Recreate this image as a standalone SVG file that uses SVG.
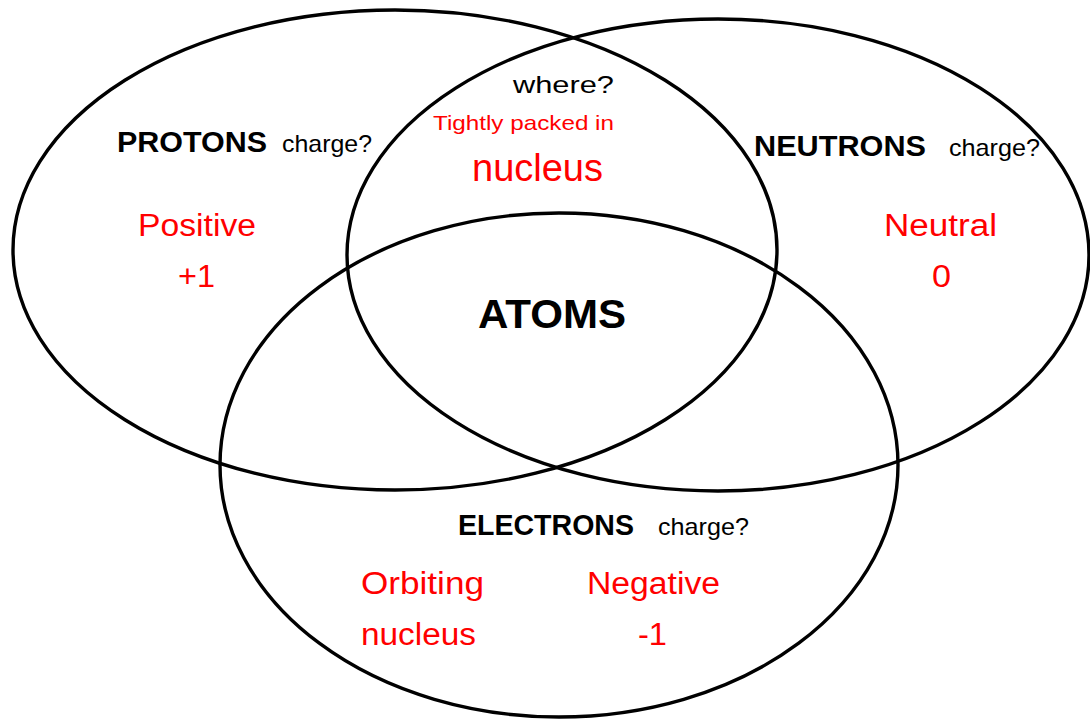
<svg xmlns="http://www.w3.org/2000/svg" width="1090" height="721" viewBox="0 0 1090 721">
<style>
.ring{fill:none;stroke:#000;stroke-width:3.4}
text{font-family:"Liberation Sans",Arial,sans-serif}
.h{font-weight:bold;fill:#000}
.q{fill:#000}
.r{fill:#ff0000}
</style>
<rect width="1090" height="721" fill="#fff"/>
<g id="connectors"></g>
<g id="protons">
<ellipse class="ring" cx="395" cy="250" rx="382" ry="240"/>
<text class="h" x="117" y="152" font-size="29" textLength="150" lengthAdjust="spacingAndGlyphs">PROTONS</text>
<text class="q" x="282" y="152" font-size="24" textLength="90" lengthAdjust="spacingAndGlyphs">charge?</text>
<text class="r" x="138" y="236" font-size="31" textLength="118" lengthAdjust="spacingAndGlyphs">Positive</text>
<text class="r" x="178" y="287" font-size="31" textLength="37" lengthAdjust="spacingAndGlyphs">+1</text>
</g>
<g id="neutrons">
<ellipse class="ring" cx="718" cy="255" rx="371" ry="236"/>
<text class="h" x="754" y="156" font-size="29" textLength="172" lengthAdjust="spacingAndGlyphs">NEUTRONS</text>
<text class="q" x="949" y="156" font-size="24" textLength="91" lengthAdjust="spacingAndGlyphs">charge?</text>
<text class="r" x="884" y="236" font-size="31" textLength="113" lengthAdjust="spacingAndGlyphs">Neutral</text>
<text class="r" x="932" y="287" font-size="31" textLength="19" lengthAdjust="spacingAndGlyphs">0</text>
</g>
<g id="electrons">
<ellipse class="ring" cx="559" cy="465" rx="339" ry="252"/>
<text class="h" x="458" y="535" font-size="29" textLength="176" lengthAdjust="spacingAndGlyphs">ELECTRONS</text>
<text class="q" x="658" y="535" font-size="24" textLength="91" lengthAdjust="spacingAndGlyphs">charge?</text>
<text class="r" x="361" y="594" font-size="31" textLength="123" lengthAdjust="spacingAndGlyphs">Orbiting</text>
<text class="r" x="587" y="594" font-size="31" textLength="133" lengthAdjust="spacingAndGlyphs">Negative</text>
<text class="r" x="361" y="645" font-size="31" textLength="115" lengthAdjust="spacingAndGlyphs">nucleus</text>
<text class="r" x="638" y="645" font-size="31" textLength="29" lengthAdjust="spacingAndGlyphs">-1</text>
</g>
<g id="nucleus">
<text class="q" x="513" y="93" font-size="24" textLength="101" lengthAdjust="spacingAndGlyphs">where?</text>
<text class="r" x="433" y="130" font-size="21" textLength="181" lengthAdjust="spacingAndGlyphs">Tightly packed in</text>
<text class="r" x="472" y="181" font-size="38" textLength="131" lengthAdjust="spacingAndGlyphs">nucleus</text>
</g>
<g id="atoms">
<text class="h" x="478" y="328" font-size="41" textLength="148" lengthAdjust="spacingAndGlyphs">ATOMS</text>
</g>
</svg>
